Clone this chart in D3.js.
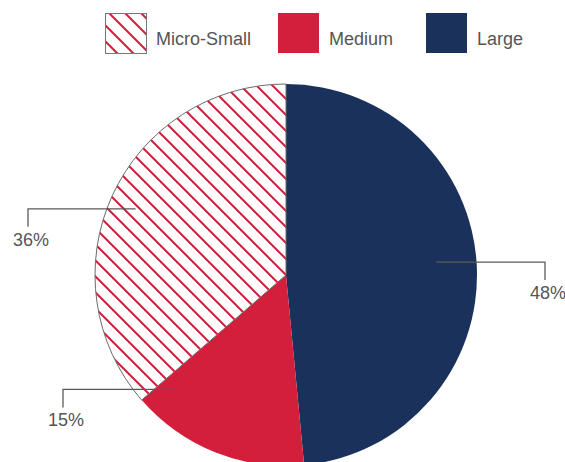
<!DOCTYPE html>
<html>
<head>
<meta charset="utf-8">
<script src="https://cdn.jsdelivr.net/npm/d3@7"></script>
<style>
  html, body { margin: 0; padding: 0; background: #fff; }
  svg { display: block; font-family: "Liberation Sans", Arial, Helvetica, sans-serif; }
</style>
</head>
<body>
<svg id="chart" width="565" height="462"></svg>
<script>
// Share of firms by size class (percent)
const categories = ["Large", "Medium", "Micro-Small"];
const values = [48, 15, 36];
const valueLabels = ["48%", "15%", "36%"];
const legendOrder = ["Micro-Small", "Medium", "Large"];

const colors = { "Large": "#1a325b", "Medium": "#d31f3b", "Micro-Small": "url(#hatch)" };
const hatchColor = "#d31f3b";

const width = 565, height = 462;
const cx = 286, cy = 275, R = 191;

const svg = d3.select("#chart");
const defs = svg.append("defs");

// diagonal red hatching used for the Micro-Small slice and its legend swatch
const pat = defs.append("pattern")
  .attr("id", "hatch")
  .attr("patternUnits", "userSpaceOnUse")
  .attr("width", 16).attr("height", 16);
pat.append("rect").attr("width", 16).attr("height", 16).attr("fill", "#fff");
pat.append("path")
  .attr("d", "M-4,-4 L20,20 M-4,12 L4,20 M12,-4 L20,4")
  .attr("stroke", hatchColor)
  .attr("stroke-width", 2)
  .attr("fill", "none");

const pie = d3.pie().sort(null).value(d => d.value).startAngle(0).endAngle(2 * Math.PI);
const data = categories.map((c, i) => ({ name: c, value: values[i], label: valueLabels[i] }));
const arcs = pie(data);
const arc = d3.arc().innerRadius(0).outerRadius(R);

const g = svg.append("g").attr("transform", `translate(${cx},${cy})`);

g.selectAll("path.slice")
  .data(arcs)
  .join("path")
  .attr("class", "slice")
  .attr("d", arc)
  .attr("fill", d => colors[d.data.name])
  .attr("stroke", d => d.data.name === "Micro-Small" ? "#6b6b6b" : "none")
  .attr("stroke-width", 1);

// leader-line placement for each value label
const labelLayout = {
  "Large":       { nudge: -2.2, rf: 0.79, side: 1,  reach: 68 },
  "Medium":      { nudge: 22.7, rf: 0.84, side: -1, reach: 32 },
  "Micro-Small": { nudge: -0.8, rf: 0.86, side: -1, reach: 67 }
};

const labels = svg.append("g").attr("class", "labels");
arcs.forEach(d => {
  const L = labelLayout[d.data.name];
  const a = (d.startAngle + d.endAngle) / 2 + L.nudge * Math.PI / 180;
  const r = R * L.rf;
  const x0 = cx + r * Math.sin(a);
  const y0 = cy - r * Math.cos(a);
  const xe = cx + L.side * (R + L.reach);
  labels.append("path")
    .attr("d", `M${x0},${y0} H${xe} V${y0 + 18}`)
    .attr("fill", "none")
    .attr("stroke", "#5a5a5a")
    .attr("stroke-width", 1.3);
  labels.append("text")
    .attr("x", xe + 3)
    .attr("y", y0 + 37)
    .attr("text-anchor", "middle")
    .attr("font-size", 18)
    .attr("fill", "#555")
    .text(d.data.label);
});

// legend
const legendX = d3.scaleOrdinal().domain(legendOrder).range([105, 278, 426]);
const lg = svg.append("g").attr("class", "legend");
legendOrder.forEach(name => {
  const x = legendX(name);
  lg.append("rect")
    .attr("x", x + (name === "Micro-Small" ? 0.5 : 0))
    .attr("y", 13 + (name === "Micro-Small" ? 0.5 : 0))
    .attr("width", 41).attr("height", 40)
    .attr("fill", colors[name])
    .attr("stroke", name === "Micro-Small" ? "#777" : "none")
    .attr("stroke-width", 1);
  lg.append("text")
    .attr("x", x + 51)
    .attr("y", 45)
    .attr("font-size", 18)
    .attr("fill", "#555")
    .text(name);
});
</script>
</body>
</html>
